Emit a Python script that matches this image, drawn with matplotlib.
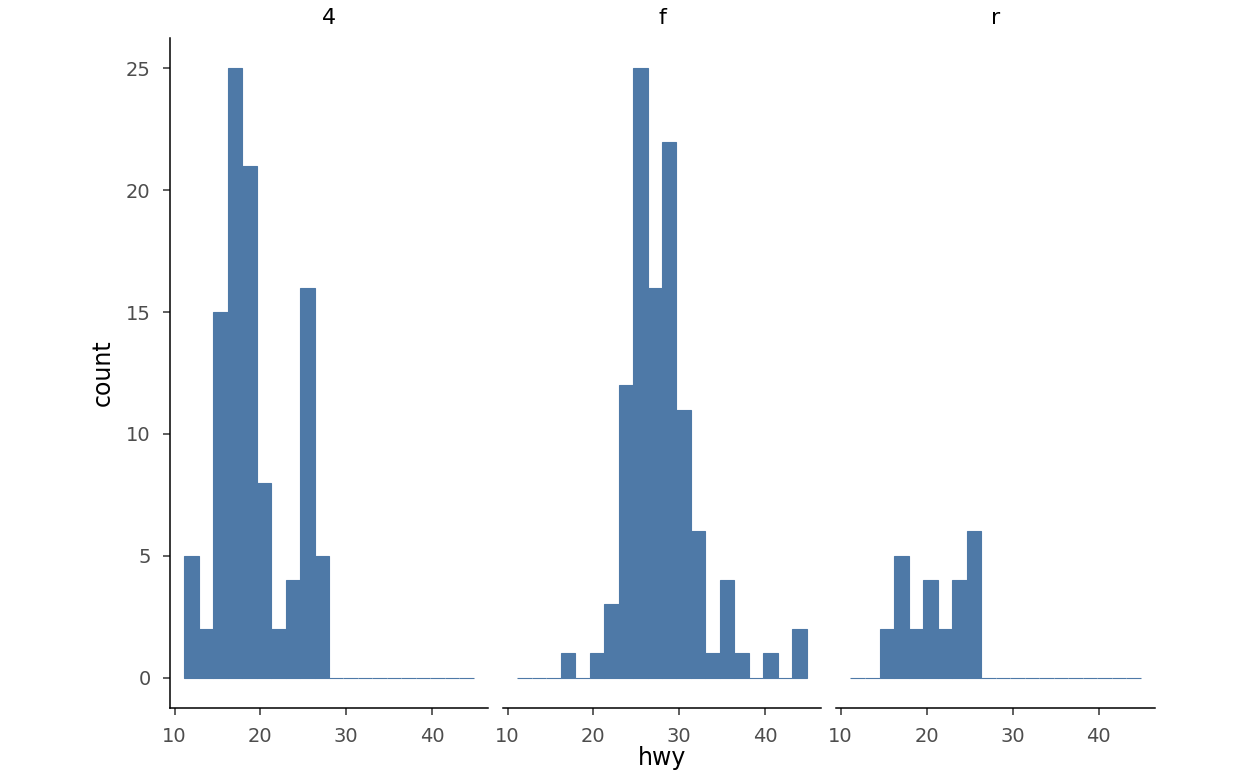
import numpy as np
import matplotlib.pyplot as plt

# hwy histogram, 20 bins, faceted by drv
hwy_min, hwy_max, n_bins = 12, 44, 20
panels = ["4", "f", "r"]
counts_4 = [5, 2, 15, 25, 21, 8, 2, 4, 16, 5, 0, 0, 0, 0, 0, 0, 0, 0, 0, 0]
counts_f = [0, 0, 0, 1, 0, 1, 3, 12, 25, 16, 22, 11, 6, 1, 4, 1, 0, 1, 0, 2]
counts_r = [0, 0, 2, 5, 2, 4, 2, 4, 6, 0, 0, 0, 0, 0, 0, 0, 0, 0, 0, 0]
x_ticks = [10, 20, 30, 40]
y_ticks = [0, 5, 10, 15, 20, 25]

width = (hwy_max - hwy_min) / (n_bins - 1)
left_edges = hwy_min - width / 2 + width * np.arange(n_bins)
x_lo, x_hi = left_edges[0], left_edges[-1] + width
pad = (x_hi - x_lo) * 0.05

bar_color = "#4e79a7"
tick_color = "#4d4d4d"

fig = plt.figure(figsize=(12.48, 7.71), dpi=100)
W, H = 1248, 771
panel_x = [(170, 488), (503, 821), (836, 1155)]
y_top, y_bot = 38, 708

for i, (name, counts) in enumerate(zip(panels, [counts_4, counts_f, counts_r])):
    x0, x1 = panel_x[i]
    ax = fig.add_axes([x0 / W, 1 - y_bot / H, (x1 - x0) / W, (y_bot - y_top) / H])
    ax.bar(left_edges, counts, width=width, align="edge", color=bar_color,
           edgecolor=bar_color, linewidth=0.8)
    ax.set_xlim(x_lo - pad, x_hi + pad)
    ax.set_ylim(-1.25, 26.25)
    ax.set_xticks(x_ticks)
    ax.set_yticks(y_ticks)
    for s in ["top", "right"]:
        ax.spines[s].set_visible(False)
    ax.spines["bottom"].set_linewidth(1.1)
    ax.spines["left"].set_linewidth(1.1)
    ax.tick_params(axis="both", colors="#333333", labelcolor=tick_color,
                   labelsize=14, length=5, width=1.1)
    ax.tick_params(axis="x", pad=9)
    ax.tick_params(axis="y", pad=9)
    if i > 0:
        ax.spines["left"].set_visible(False)
        ax.tick_params(axis="y", left=False, labelleft=False)
    else:
        ax.set_ylabel("count", fontsize=17, labelpad=8)
    if i == 1:
        ax.set_xlabel("hwy", fontsize=17, labelpad=0)
    ax.set_title(name, fontsize=16, pad=10)

fig.savefig("out.png", dpi=100)
